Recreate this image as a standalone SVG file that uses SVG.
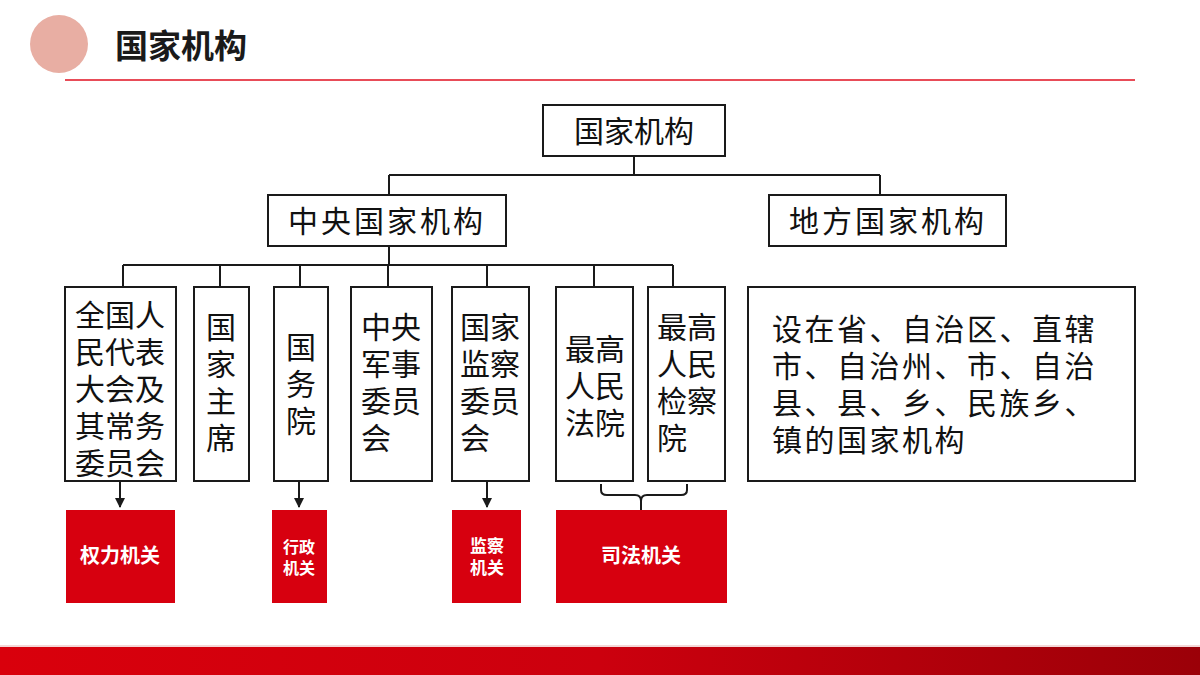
<svg xmlns="http://www.w3.org/2000/svg" width="1200" height="675" viewBox="0 0 1200 675">
<style>
.b{fill:#fff;stroke:#1a1a1a;stroke-width:2}
.t{font-family:"Noto Sans CJK SC","Noto Sans",sans-serif;fill:#111;font-size:30px}
.r{fill:#d7000f}
.w{font-family:"Noto Sans CJK SC","Noto Sans",sans-serif;fill:#fff;font-weight:bold;text-anchor:middle}
.c{fill:none;stroke:#1a1a1a;stroke-width:2}
</style>
<defs>
<linearGradient id="g" x1="0" x2="1"><stop offset="0" stop-color="#d9000c"/><stop offset="0.5" stop-color="#cc000e"/><stop offset="1" stop-color="#9b0008"/></linearGradient>
<marker id="a" viewBox="0 0 10 10" refX="9" refY="5" markerWidth="5" markerHeight="5" orient="auto"><path d="M0,0L10,5L0,10z" fill="#1a1a1a"/></marker>
</defs>
<rect width="1200" height="675" fill="#fff"/>
<circle cx="59" cy="44" r="29" fill="#e8aea3"/>
<text x="115" y="58" font-family="Noto Sans CJK SC,sans-serif" font-weight="bold" font-size="33" fill="#1a1a1a">国家机构</text>
<line x1="65" y1="80" x2="1135" y2="80" stroke="#e01020" stroke-width="1.5"/>
<rect x="0" y="647" width="1200" height="28" fill="url(#g)"/>
<line x1="0" y1="646" x2="1200" y2="646" stroke="#e8b0b0" stroke-width="1"/>
<g id="connectors">
<path class="c" d="M634,156V175M389,175H880M389,175V195M880,175V195"/>
<path class="c" d="M389,246V265M123,265H673M123,265V287M220,265V287M300,265V287M388,265V287M487,265V287M594,265V287M673,265V287"/>
<path class="c" d="M120,481V507" marker-end="url(#a)"/>
<path class="c" d="M299,481V507" marker-end="url(#a)"/>
<path class="c" d="M487,481V507" marker-end="url(#a)"/>
<path class="c" d="M601,484V490Q601,495 607,495H635Q641,495 641,501V512M641,501Q641,495 647,495H681Q687,495 687,490V484"/>
</g>
<g id="n0"><rect class="b" x="543" y="105" width="182" height="51"/><text class="t" x="634" y="142" text-anchor="middle">国家机构</text></g>
<g id="n1"><rect class="b" x="268" y="195" width="238" height="51"/><text class="t" x="387" y="232" text-anchor="middle" letter-spacing="3">中央国家机构</text></g>
<g id="n2"><rect class="b" x="769" y="195" width="237" height="51"/><text class="t" x="888" y="232" text-anchor="middle" letter-spacing="3">地方国家机构</text></g>
<g id="n3"><rect class="b" x="65" y="287" width="111" height="194"/><text class="t" text-anchor="middle" font-size="31"><tspan x="120" y="326">全国人</tspan><tspan x="120" y="363">民代表</tspan><tspan x="120" y="400">大会及</tspan><tspan x="120" y="437">其常务</tspan><tspan x="120" y="474">委员会</tspan></text></g>
<g id="n4"><rect class="b" x="194" y="287" width="55" height="194"/><text class="t" text-anchor="middle" font-size="31"><tspan x="221" y="338">国</tspan><tspan x="221" y="375">家</tspan><tspan x="221" y="412">主</tspan><tspan x="221" y="449">席</tspan></text></g>
<g id="n5"><rect class="b" x="274" y="287" width="54" height="194"/><text class="t" text-anchor="middle" font-size="31"><tspan x="301" y="358">国</tspan><tspan x="301" y="395">务</tspan><tspan x="301" y="432">院</tspan></text></g>
<g id="n6"><rect class="b" x="351" y="287" width="81" height="194"/><text class="t" text-anchor="middle" font-size="31"><tspan x="391" y="338">中央</tspan><tspan x="391" y="375">军事</tspan><tspan x="391" y="412">委员</tspan><tspan x="376" y="449">会</tspan></text></g>
<g id="n7"><rect class="b" x="452" y="287" width="77" height="194"/><text class="t" text-anchor="middle" font-size="31"><tspan x="490" y="338">国家</tspan><tspan x="490" y="375">监察</tspan><tspan x="490" y="412">委员</tspan><tspan x="475" y="449">会</tspan></text></g>
<g id="n8"><rect class="b" x="556" y="287" width="77" height="194"/><text class="t" text-anchor="middle" font-size="31"><tspan x="595" y="360">最高</tspan><tspan x="595" y="397">人民</tspan><tspan x="595" y="434">法院</tspan></text></g>
<g id="n9"><rect class="b" x="648" y="287" width="77" height="194"/><text class="t" text-anchor="middle" font-size="31"><tspan x="687" y="338">最高</tspan><tspan x="687" y="375">人民</tspan><tspan x="687" y="412">检察</tspan><tspan x="672" y="449">院</tspan></text></g>
<g id="n10"><rect class="b" x="748" y="287" width="387" height="194"/><text class="t" font-size="31" letter-spacing="2.5"><tspan x="772" y="340">设在省、自治区、直辖</tspan><tspan x="772" y="377">市、自治州、市、自治</tspan><tspan x="772" y="414">县、县、乡、民族乡、</tspan><tspan x="772" y="451">镇的国家机构</tspan></text></g>
<g id="r1"><rect class="r" x="66" y="510" width="109" height="93"/><text class="w" x="120" y="563" font-size="20">权力机关</text></g>
<g id="r2"><rect class="r" x="272" y="510" width="55" height="93"/><text class="w" font-size="16"><tspan x="299" y="553">行政</tspan><tspan x="299" y="574">机关</tspan></text></g>
<g id="r3"><rect class="r" x="452" y="510" width="69" height="93"/><text class="w" font-size="17"><tspan x="487" y="552">监察</tspan><tspan x="487" y="574">机关</tspan></text></g>
<g id="r4"><rect class="r" x="556" y="510" width="171" height="93"/><text class="w" x="641" y="563" font-size="20">司法机关</text></g>
</svg>
